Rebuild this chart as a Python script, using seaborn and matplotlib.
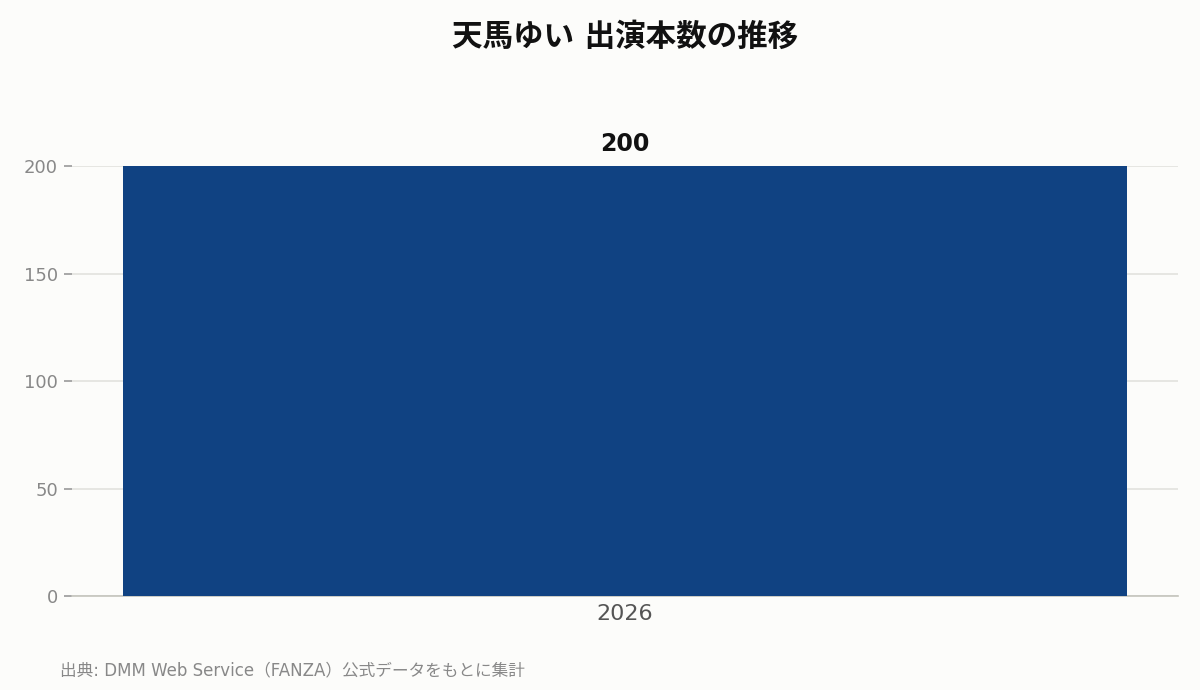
import matplotlib
matplotlib.use('Agg')
import matplotlib.pyplot as plt
import seaborn as sns
import pandas as pd

years = ['2026']
counts = [200]
title = '天馬ゆい 出演本数の推移'
source = '出典: DMM Web Service（FANZA）公式データをもとに集計'

bg = '#fcfcfa'
bar_color = '#104282'

sns.set_theme(style='white')
plt.rcParams['font.family'] = ['DejaVu Sans', 'Noto Sans CJK JP']

df = pd.DataFrame({'year': years, 'count': counts})

fig = plt.figure(figsize=(12, 6.9), dpi=100, facecolor=bg)
ax = fig.add_axes([0.06, 0.1362, 0.9217, 0.6232])
ax.set_facecolor(bg)

sns.barplot(data=df, x='year', y='count', color=bar_color, width=0.9,
            saturation=1, linewidth=0, ax=ax, zorder=3)
ax.set_xlim(-0.4955, 0.4955)
ax.set_ylim(0, 200)
ax.set_yticks([0, 50, 100, 150, 200])
ax.yaxis.grid(True, color='#e2e2de', linewidth=1.2, zorder=0)
ax.set_xlabel('')
ax.set_ylabel('')

for s in ['top', 'right', 'left']:
    ax.spines[s].set_visible(False)
ax.spines['bottom'].set_color('#c4c4bc')
ax.spines['bottom'].set_linewidth(1.2)

ax.tick_params(axis='y', left=True, length=6, width=1.2, color='#999999',
               labelcolor='#888888', labelsize=13, pad=4)
ax.tick_params(axis='x', bottom=False, labelcolor='#555555', labelsize=16, pad=0)

for p, v in zip(ax.patches, counts):
    ax.text(p.get_x() + p.get_width() / 2, v + 4.5, f'{v}', ha='center', va='bottom',
            fontsize=17, fontweight='bold', color='#111111')

fig.text(0.521, 0.946, title, ha='center', va='center', fontsize=22,
         fontweight='bold', color='#111111')
fig.text(0.05, 0.029, source, ha='left', va='center', fontsize=12, color='#888888')

fig.savefig('out.png', dpi=100, facecolor=bg)
